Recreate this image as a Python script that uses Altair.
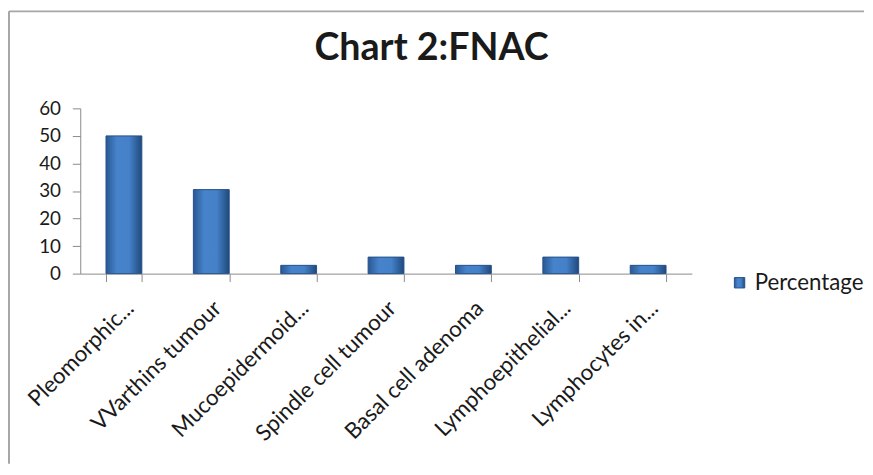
import altair as alt
import pandas as pd

categories = ["Pleomorphic...", "VVarthins tumour", "Mucoepidermoid...",
              "Spindle cell tumour", "Basal cell adenoma", "Lymphoepithelial...",
              "Lymphocytes in..."]
percentages = [50, 30.5, 3, 6, 3, 6, 3]
series_name = "Percentage"
y_ticks = [0, 10, 20, 30, 40, 50, 60]
title_text = "Chart 2:FNAC"

df = pd.DataFrame({"category": categories, "value": percentages, "series": series_name})
frame_df = pd.DataFrame({"k": [0]})
title_df = pd.DataFrame({"t": [title_text]})

FONT = "Lato"
TEXT = "#1a1a1a"
AXIS = "#8a8a8a"

grad = alt.LinearGradient(
    gradient="linear", x1=0, x2=1, y1=0, y2=0,
    stops=[
        alt.GradientStop(color="#2a5892", offset=0),
        alt.GradientStop(color="#4683cb", offset=0.3),
        alt.GradientStop(color="#4481c9", offset=0.65),
        alt.GradientStop(color="#21497c", offset=1),
    ],
)

bars = alt.Chart(df).mark_bar(fill=grad, strokeWidth=1).encode(
    x=alt.X("category:N", sort=categories, title=None,
            scale=alt.Scale(paddingInner=0.59, paddingOuter=0.295),
            axis=alt.Axis(labelAngle=-45, labelAlign="right", labelBaseline="middle",
                          labelFont=FONT, labelFontSize=22.5, labelColor=TEXT,
                          labelPadding=23, labelOffset=6, tickBand="extent", tickSize=8,
                          tickColor=AXIS, domainColor=AXIS, labelLimit=300)),
    y=alt.Y("value:Q", title=None, scale=alt.Scale(domain=[0, 60], nice=False),
            axis=alt.Axis(values=y_ticks, labelFont=FONT, labelFontSize=19,
                          labelColor=TEXT, labelPadding=12, tickSize=8,
                          tickColor=AXIS, domainColor=AXIS, grid=False)),
    stroke=alt.Stroke("series:N", scale=alt.Scale(range=["#24508a"]),
                      legend=alt.Legend(title=None, orient="none", legendX=655, legendY=165,
                                        symbolType="square", symbolFillColor="#3c76bb",
                                        symbolSize=110, symbolStrokeWidth=1,
                                        labelFont=FONT, labelFontSize=22.5, labelColor=TEXT)),
)

title = alt.Chart(title_df).mark_text(font=FONT, fontSize=38, fontWeight="bold",
                                      color=TEXT, align="center", baseline="middle").encode(
    text="t:N", x=alt.value(355), y=alt.value(-60))

frame_left = alt.Chart(frame_df).mark_rule(color="#a6a6a6", strokeWidth=2).encode(
    x=alt.value(-72), y=alt.value(-98), y2=alt.value(359))
frame_top = alt.Chart(frame_df).mark_rule(color="#a6a6a6", strokeWidth=2).encode(
    x=alt.value(-72), x2=alt.value(792), y=alt.value(-98))

chart = alt.layer(frame_left, frame_top, title, bars).properties(
    width=618, height=167, padding=0, background="white",
).configure_view(stroke="transparent", strokeWidth=0)

chart.save("out.html", embed_options={"renderer": "svg", "actions": False})
